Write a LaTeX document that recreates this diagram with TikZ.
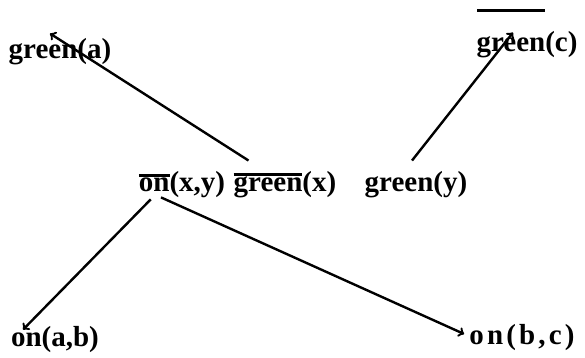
\documentclass[tikz,border=0pt]{standalone}
\usepackage{fontspec}
\setmainfont{Liberation Serif}
\newcommand{\negbar}[1]{\vbox{\hrule height 3pt\kern1pt\hbox{#1}}}

\begin{document}
\begin{tikzpicture}[x=1pt,y=1pt,line width=2.4pt,
  lit/.style={font=\bfseries\fontsize{29}{30}\selectfont,inner sep=0pt}]
\useasboundingbox (0,0) rectangle (585,357);
% top literals
\node[lit] (ga) at (60,305) {green(a)};
\node[lit] (gc) at (527,312) {green(c)};
\draw[line width=3.5pt] ([xshift=-50pt,yshift=20pt]gc.north) -- ([xshift=18pt,yshift=20pt]gc.north);
% middle literals
\node[lit] (onxy) at (182,172) {\negbar{on}(x,y)};
\node[lit] (gx) at (285,172) {\negbar{green}(x)};
\node[lit] (gy) at (416,172) {green(y)};
% bottom literals
\node[lit] (onab) at (55,17) {on(a,b)};
\node[lit] (onbc) at (522,19) {\addfontfeatures{LetterSpace=11}on(b,c)};
% arrows
\draw[->] ([xshift=16pt,yshift=10pt]gx.north west) -- ([xshift=-10pt,yshift=4pt]ga.north);
\draw[->] ([xshift=-4pt,yshift=10pt]gy.north) -- ([xshift=-14pt,yshift=-2pt]gc.north);
\draw[->] ([xshift=13pt]onxy.south west) -- ([xshift=-32pt,yshift=-4pt]onab.north);
\draw[->] ([xshift=-21pt,yshift=2pt]onxy.south) -- ([xshift=-4pt,yshift=4pt]onbc.west);
\end{tikzpicture}
\end{document}
